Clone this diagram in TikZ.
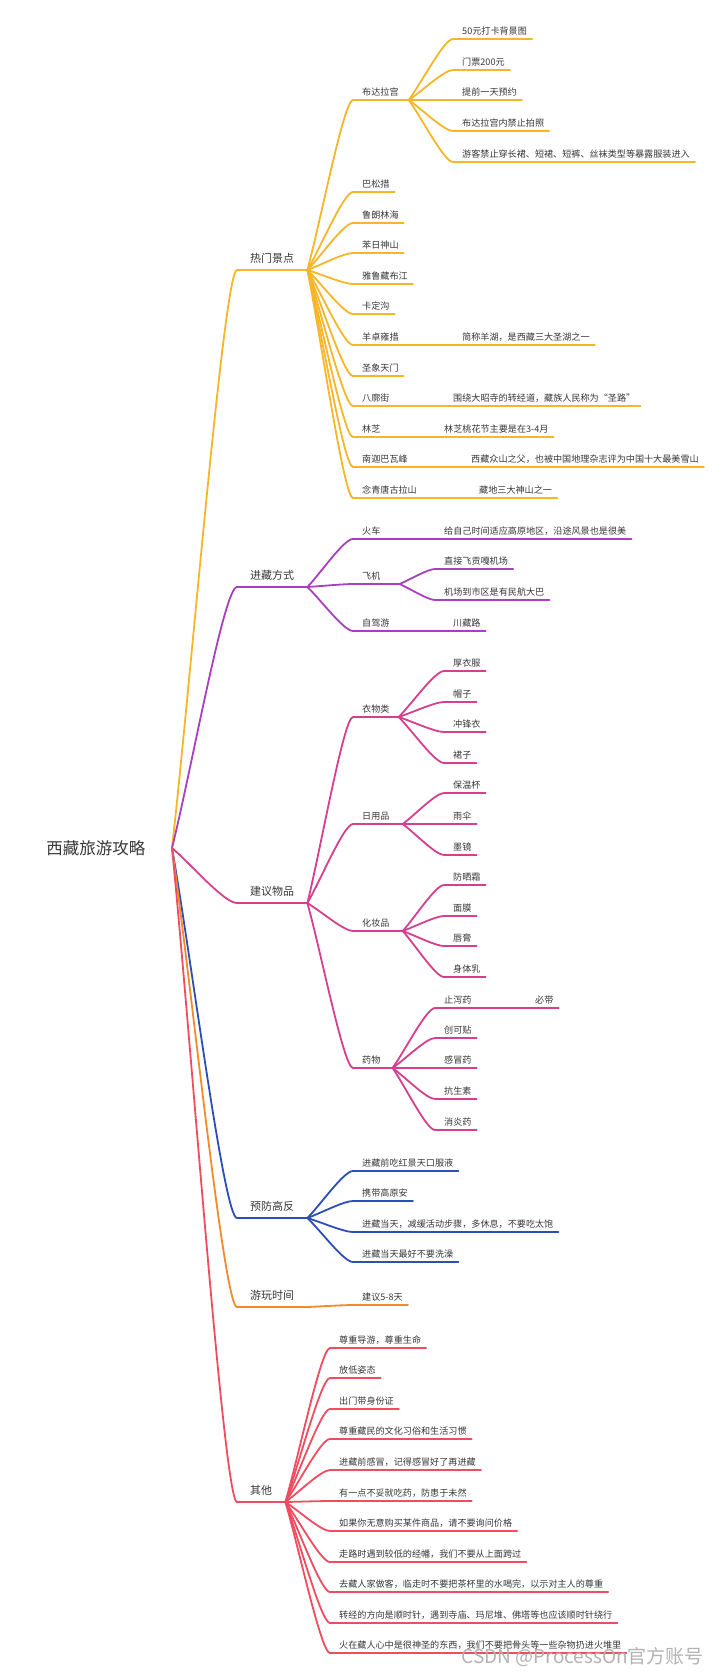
\documentclass[tikz,border=0pt]{standalone}
\usepackage{fontspec}
\setmainfont{Noto Sans CJK SC}
\usetikzlibrary{calc}

\definecolor{txt}{RGB}{55,55,55}
\definecolor{cHot}{RGB}{247,181,41}
\definecolor{cWay}{RGB}{168,64,190}
\definecolor{cGoods}{RGB}{214,62,142}
\definecolor{cAlt}{RGB}{44,78,184}
\definecolor{cTime}{RGB}{242,138,42}
\definecolor{cMisc}{RGB}{239,76,96}

\tikzset{
  branch/.style={to path={.. controls ($(\tikztostart)!0.3!(\tikztotarget)$) and ($(\tikztotarget)!0.2!(\tikztostart|-\tikztotarget)$) .. (\tikztotarget)}},
  ln/.style={draw=#1, line width=1.8pt, line cap=round},
  rootnode/.style={font=\fontsize{16.5}{20}\selectfont, text=txt, anchor=east, inner xsep=26.5pt, inner ysep=0pt, text height=13pt, text depth=0pt},
  topic/.style={font=\fontsize{11}{13}\selectfont, text=txt, anchor=south west, inner xsep=13pt, inner ysep=5pt, text height=8.5pt, text depth=2.5pt},
  leaf/.style={font=\fontsize{9.1}{11}\selectfont, text=txt, anchor=south west, inner xsep=5pt, inner ysep=2.5pt, text height=7pt, text depth=2pt, execute at begin node={\hspace*{4pt}}},
  hub/.style={execute at end node={\hspace*{#1}}},
  hub/.default=5pt
}

\begin{document}
\begin{tikzpicture}[x=1pt,y=-1pt]
  \useasboundingbox (0,0) rectangle (720,1675);
  \node[rootnode] (root) at (172,848) {西藏旅游攻略};

  % main topics
  \foreach \n/\y/\col/\lbl in {hot/270/cHot/热门景点,way/587/cWay/进藏方式,goods/903/cGoods/建议物品,alt/1218/cAlt/预防高反,time/1307/cTime/游玩时间,misc/1502/cMisc/其他} {
    \node[topic] (\n) at (237,\y) {\lbl};
    \draw[ln=\col] (root.east) to[branch] (\n.south west) -- (\n.south east);
  }

  % 热门景点
  \node[leaf, hub] (bdl) at (353,100) {布达拉宫};
  \draw[ln=cHot] (hot.south east) to[branch] (bdl.south west) -- (bdl.south east);
  \foreach \n/\y/\lbl in {bsc/192/巴松措,llh/223/鲁朗林海,brs/253/苯日神山,ylz/284/雅鲁藏布江,kdg/314/卡定沟,yzy/345/羊卓雍措,sxt/376/圣象天门,bkj/406/八廓街,lz/437/林芝,njb/467/南迦巴瓦峰,nqt/498/念青唐古拉山} {
    \node[leaf] (\n) at (353,\y) {\lbl};
    \draw[ln=cHot] (hot.south east) to[branch] (\n.south west) -- (\n.south east);
  }
  \foreach \i/\y/\lbl in {1/39/50元打卡背景图,2/70/门票200元,3/100/提前一天预约,4/131/布达拉宫内禁止拍照,5/162/{游客禁止穿长裙、短裙、短裤、丝袜类型等暴露服装进入}} {
    \node[leaf] (bdl\i) at (453,\y) {\lbl};
    \draw[ln=cHot] (bdl.south east) to[branch] (bdl\i.south west) -- (bdl\i.south east);
  }
  \foreach \n/\y/\x/\lbl in {yzy/345/453/{简称羊湖，是西藏三大圣湖之一},bkj/406/444/{围绕大昭寺的转经道，藏族人民称为“圣路”},lz/437/435/{林芝桃花节主要是在3-4月},njb/467/462/{西藏众山之父，也被中国地理杂志评为中国十大最美雪山},nqt/498/470/{藏地三大神山之一}} {
    \node[leaf] (\n2) at (\x,\y) {\lbl};
    \draw[ln=cHot] (\n.south east) -- (\n2.south west) -- (\n2.south east);
  }

  % 进藏方式
  \node[leaf] (hc) at (353,539) {火车};
  \node[leaf, hub=14pt] (fj) at (353,584) {飞机};
  \node[leaf] (zjy) at (353,631) {自驾游};
  \foreach \n in {hc,fj,zjy}
    \draw[ln=cWay] (way.south east) to[branch] (\n.south west) -- (\n.south east);
  \node[leaf] (hc2) at (435,539) {给自己时间适应高原地区，沿途风景也是很美};
  \node[leaf] (zjy2) at (444,631) {川藏路};
  \draw[ln=cWay] (hc.south east) -- (hc2.south west) -- (hc2.south east);
  \draw[ln=cWay] (zjy.south east) -- (zjy2.south west) -- (zjy2.south east);
  \foreach \i/\y/\lbl in {1/569/直接飞贡嘎机场,2/600/机场到市区是有民航大巴} {
    \node[leaf] (fj\i) at (435,\y) {\lbl};
    \draw[ln=cWay] (fj.south east) to[branch] (fj\i.south west) -- (fj\i.south east);
  }

  % 建议物品
  \foreach \n/\y/\h/\lbl in {ywl/717/4pt/衣物类,ryp/824/8pt/日用品,hzp/931/8pt/化妆品,yw/1068/7pt/药物} {
    \node[leaf, hub=\h] (\n) at (353,\y) {\lbl};
    \draw[ln=cGoods] (goods.south east) to[branch] (\n.south west) -- (\n.south east);
  }
  \foreach \n/\i/\x/\y/\lbl in {ywl/1/444/671/厚衣服,ywl/2/444/702/帽子,ywl/3/444/732/冲锋衣,ywl/4/444/763/裙子,ryp/1/444/793/保温杯,ryp/2/444/824/雨伞,ryp/3/444/855/墨镜,hzp/1/444/885/防晒霜,hzp/2/444/916/面膜,hzp/3/444/946/唇膏,hzp/4/444/977/身体乳,yw/1/435/1008/止泻药,yw/2/435/1038/创可贴,yw/3/435/1068/感冒药,yw/4/435/1099/抗生素,yw/5/435/1130/消炎药} {
    \node[leaf] (\n\i) at (\x,\y) {\lbl};
    \draw[ln=cGoods] (\n.south east) to[branch] (\n\i.south west) -- (\n\i.south east);
  }
  \node[leaf] (yw1x) at (526,1008) {必带};
  \draw[ln=cGoods] (yw1.south east) -- (yw1x.south west) -- (yw1x.south east);

  % 预防高反
  \foreach \i/\y/\lbl in {1/1171/进藏前吃红景天口服液,2/1201/携带高原安,3/1232/{进藏当天，减缓活动步骤，多休息，不要吃太饱},4/1262/进藏当天最好不要洗澡} {
    \node[leaf] (alt\i) at (353,\y) {\lbl};
    \draw[ln=cAlt] (alt.south east) to[branch] (alt\i.south west) -- (alt\i.south east);
  }

  % 游玩时间
  \node[leaf] (time1) at (353,1305) {建议5-8天};
  \draw[ln=cTime] (time.south east) to[branch] (time1.south west) -- (time1.south east);

  % 其他
  \foreach \i/\y/\lbl in {1/1348/{尊重导游，尊重生命},2/1378/放低姿态,3/1409/出门带身份证,4/1439/尊重藏民的文化习俗和生活习惯,5/1470/{进藏前感冒，记得感冒好了再进藏},6/1501/{有一点不妥就吃药，防患于未然},7/1531/{如果你无意购买某件商品，请不要询问价格},8/1562/{走路时遇到较低的经幡，我们不要从上面跨过},9/1592/{去藏人家做客，临走时不要把茶杯里的水喝完，以示对主人的尊重},10/1623/{转经的方向是顺时针，遇到寺庙、玛尼堆、佛塔等也应该顺时针绕行},11/1653/{火在藏人心中是很神圣的东西，我们不要把骨头等一些杂物扔进火堆里}} {
    \node[leaf] (misc\i) at (330,\y) {\lbl};
    \draw[ln=cMisc] (misc.south east) to[branch] (misc\i.south west) -- (misc\i.south east);
  }

  \node[font=\fontsize{19}{22}\selectfont, text=gray!60, anchor=east, inner sep=0pt] (mark) at (704,1657) {CSDN @ProcessOn官方账号};
\end{tikzpicture}
\end{document}
